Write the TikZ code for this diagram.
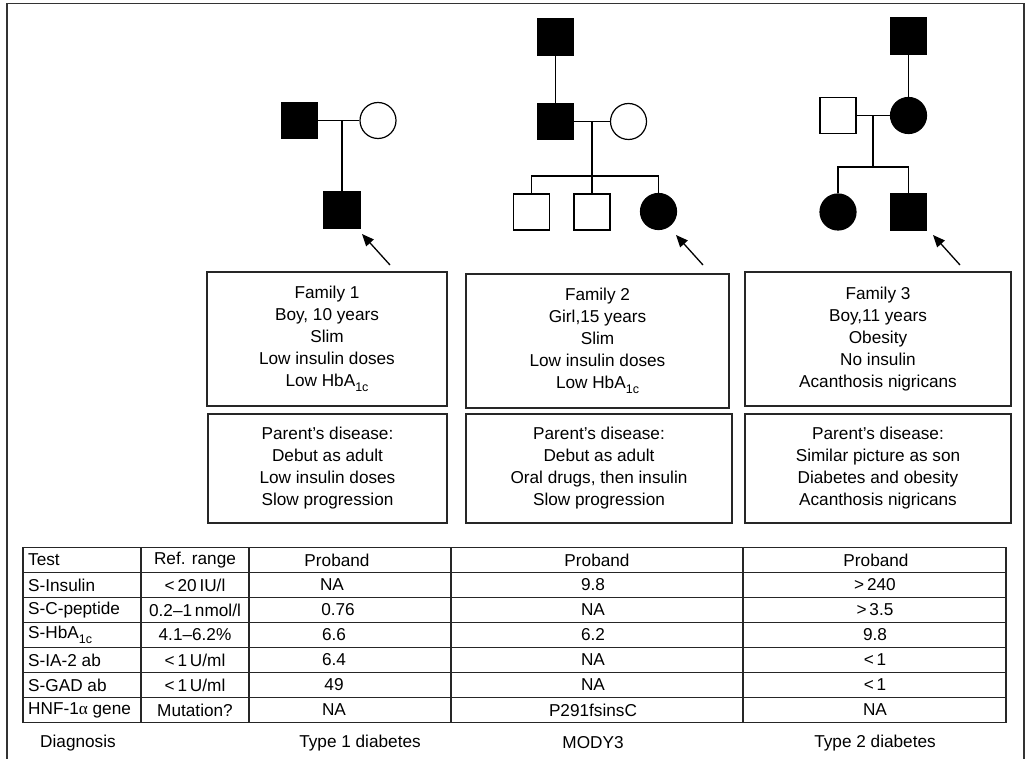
\documentclass[tikz,border=0pt]{standalone}
\usepackage{fontspec}
\setmainfont{Liberation Sans}
\newfontfamily\greekserif{Liberation Serif}
\usetikzlibrary{arrows.meta}
% lowered subscript used in "HbA1c"
\newcommand{\lowsub}[1]{\raisebox{-0.32em}{\fontsize{12.5}{12.5}\selectfont #1}}

\begin{document}
\begin{tikzpicture}[x=1pt,y=-1pt,
  every node/.style={font=\fontsize{17.2}{22}\selectfont, inner sep=0pt},
  pedline/.style={line width=1.3pt},
  affmale/.style={rectangle, draw=black, fill=black, line width=1.2pt, minimum size=36pt},
  unmale/.style={rectangle, draw=black, fill=white, line width=1.2pt, minimum size=36pt},
  afffemale/.style={circle, draw=black, fill=black, line width=1.2pt, minimum size=36pt},
  unfemale/.style={circle, draw=black, fill=white, line width=1.2pt, minimum size=36pt},
  proband/.style={line width=1.3pt, -{Triangle[length=12pt,width=10pt]}},
  infobox/.style={rectangle, draw=black!85, line width=1.2pt, align=center},
  grid/.style={draw=black!85, line width=1.2pt},
  cell/.style={anchor=center},
  lcell/.style={anchor=west}
]
\useasboundingbox (0,0) rectangle (1031,759);

% outer frame (its lower edge runs past the page)
\draw[draw=black!80, line width=1.6pt] (7,775) -- (7,3.5) -- (1024,3.5) -- (1024,775);

% ---------------- Family 1 pedigree ----------------
\node[affmale]  (f1) at (299.5,120.5) {};
\node[unfemale] (m1) at (378,120.5) {};
\coordinate (j1) at (342,120.5);
\node[affmale]  (c1) at (342,210) {};
\draw[pedline] (f1) -- (m1);
\draw[pedline] (j1) -- (c1.north);
\coordinate (a1s) at (390,265);
\coordinate (a1t) at (362,234);
\draw[proband] (a1s) -- (a1t);

% ---------------- Family 2 pedigree ----------------
\node[affmale]  (g2) at (555.5,37) {};
\node[affmale]  (f2) at (555.5,121.5) {};
\node[unfemale] (m2) at (628.5,121.5) {};
\draw[pedline] (g2) -- (f2);
\draw[pedline] (f2) -- (m2);
\coordinate (j2) at (592,121.5);
\coordinate (s2) at (592,176);
\node[unmale]    (c2a) at (531.5,212) {};
\node[unmale]    (c2b) at (592,212) {};
\node[afffemale] (c2c) at (658.5,211.5) {};
\coordinate (s2a) at (531.5,176);
\coordinate (s2c) at (658.5,176);
\draw[pedline] (j2) -- (s2);
\draw[pedline] (c2a.north) -- (s2a) -- (s2c) -- (c2c.north);
\draw[pedline] (s2) -- (c2b.north);
\coordinate (a2s) at (703,265);
\coordinate (a2t) at (676,235);
\draw[proband] (a2s) -- (a2t);

% ---------------- Family 3 pedigree ----------------
\node[affmale]   (g3) at (908.5,36) {};
\node[afffemale] (m3) at (908.5,115.5) {};
\node[unmale]    (f3) at (838,115.5) {};
\draw[pedline] (g3) -- (m3);
\draw[pedline] (f3) -- (m3);
\coordinate (j3) at (873,115.5);
\coordinate (s3) at (873,167);
\node[afffemale] (c3a) at (838,212) {};
\node[affmale]   (c3b) at (908.5,212) {};
\coordinate (s3a) at (838,167);
\coordinate (s3b) at (908.5,167);
\draw[pedline] (j3) -- (s3);
\draw[pedline] (c3a.north) -- (s3a) -- (s3b) -- (c3b.north);
\coordinate (a3s) at (960,265);
\coordinate (a3t) at (933,235);
\draw[proband] (a3s) -- (a3t);

% ---------------- case descriptions ----------------
\node[infobox, minimum width=240pt, minimum height=134pt] (p1) at (327,339)
  {Family 1\\Boy, 10 years\\Slim\\Low insulin doses\\Low HbA\lowsub{1c}};
\node[infobox, minimum width=263pt, minimum height=134pt] (p2) at (597.5,341)
  {Family 2\\Girl,15 years\\Slim\\Low insulin doses\\Low HbA\lowsub{1c}};
\node[infobox, minimum width=266pt, minimum height=134pt] (p3) at (878,339)
  {Family 3\\Boy,11 years\\Obesity\\No insulin\\Acanthosis nigricans};

\node[infobox, minimum width=239pt, minimum height=109pt] (q1) at (327.5,468.5)
  {Parent’s disease:\\Debut as adult\\Low insulin doses\\Slow progression};
\node[infobox, minimum width=266pt, minimum height=109pt] (q2) at (599,468.5)
  {Parent’s disease:\\Debut as adult\\Oral drugs, then insulin\\Slow progression};
\node[infobox, minimum width=266pt, minimum height=109pt] (q3) at (878,468.5)
  {Parent’s disease:\\Similar picture as son\\Diabetes and obesity\\Acanthosis nigricans};

% ---------------- laboratory table ----------------
\draw[grid] (23,547.5) rectangle (1006,722.5);
\foreach \yy in {572.5,597.5,622.5,647.5,672.5,697.5}
  \draw[grid] (23,\yy) -- (1006,\yy);
\foreach \xx in {141,249,451,743}
  \draw[grid] (\xx,547.5) -- (\xx,722.5);

% header row
\node[lcell] (h1) at (28,560) {Test};
\node[cell]  (h2) at (195,560) {Ref. range};
\node[cell]  (h3) at (337,560) {Proband};
\node[cell]  (h4) at (597,560) {Proband};
\node[cell]  (h5) at (876,560) {Proband};
% S-Insulin
\node[lcell] (r1a) at (28,585) {S-Insulin};
\node[cell]  (r1b) at (195,585) {<\,20\,IU/l};
\node[cell]  (r1c) at (332,585) {NA};
\node[cell]  (r1d) at (593,585) {9.8};
\node[cell]  (r1e) at (875,585) {>\,240};
% S-C-peptide
\node[lcell] (r2a) at (28,610) {S-C-peptide};
\node[cell]  (r2b) at (195,610) {0.2--1\,nmol/l};
\node[cell]  (r2c) at (338,610) {0.76};
\node[cell]  (r2d) at (593,610) {NA};
\node[cell]  (r2e) at (875,610) {>\,3.5};
% S-HbA1c
\node[lcell] (r3a) at (28,635) {S-HbA\lowsub{1c}};
\node[cell]  (r3b) at (195,635) {4.1--6.2\%};
\node[cell]  (r3c) at (334,635) {6.6};
\node[cell]  (r3d) at (593,635) {6.2};
\node[cell]  (r3e) at (875,635) {9.8};
% S-IA-2 ab
\node[lcell] (r4a) at (28,660) {S-IA-2 ab};
\node[cell]  (r4b) at (195,660) {<\,1\,U/ml};
\node[cell]  (r4c) at (334,660) {6.4};
\node[cell]  (r4d) at (593,660) {NA};
\node[cell]  (r4e) at (875,660) {<\,1};
% S-GAD ab
\node[lcell] (r5a) at (28,685) {S-GAD ab};
\node[cell]  (r5b) at (195,685) {<\,1\,U/ml};
\node[cell]  (r5c) at (334,685) {49};
\node[cell]  (r5d) at (593,685) {NA};
\node[cell]  (r5e) at (875,685) {<\,1};
% HNF-1 alpha gene
\node[lcell] (r6a) at (28,710) {HNF-1{\greekserif α} gene};
\node[cell]  (r6b) at (195,710) {Mutation?};
\node[cell]  (r6c) at (334,710) {NA};
\node[cell]  (r6d) at (593,710) {P291fsinsC};
\node[cell]  (r6e) at (875,710) {NA};

% diagnosis line under the table
\node[lcell] (d1) at (40,743) {Diagnosis};
\node[cell]  (d2) at (360,743) {Type 1 diabetes};
\node[cell]  (d3) at (593,743) {MODY3};
\node[cell]  (d4) at (875,743) {Type 2 diabetes};
\end{tikzpicture}
\end{document}
